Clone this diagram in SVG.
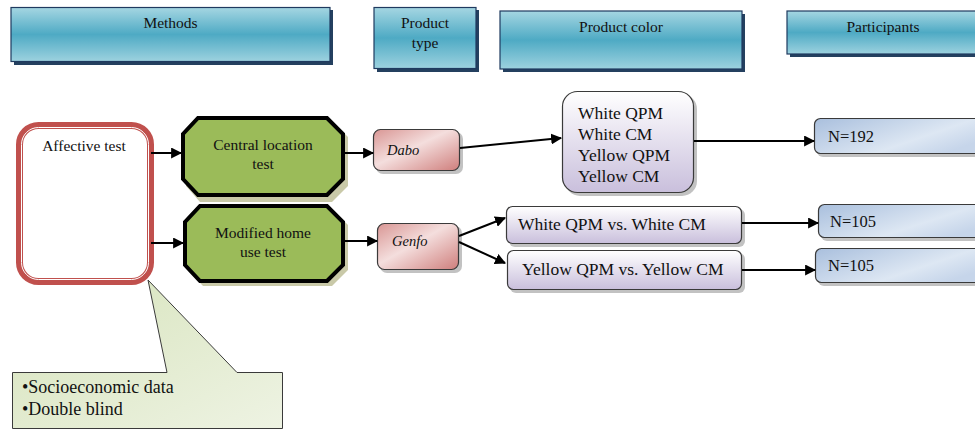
<svg xmlns="http://www.w3.org/2000/svg" width="975" height="431" viewBox="0 0 975 431">
<defs>
<linearGradient id="gHead" x1="0" y1="0" x2="0" y2="1">
<stop offset="0" stop-color="#a5d6e2"/><stop offset="0.5" stop-color="#4eaac4"/><stop offset="1" stop-color="#9dd2df"/>
</linearGradient>
<linearGradient id="gPink" x1="0" y1="0" x2="1" y2="1">
<stop offset="0" stop-color="#d99694"/><stop offset="0.45" stop-color="#f4dedd"/><stop offset="1" stop-color="#cf7e7c"/>
</linearGradient>
<linearGradient id="gLav" x1="0" y1="0" x2="0" y2="1">
<stop offset="0" stop-color="#ffffff"/><stop offset="1" stop-color="#c9bfdc"/>
</linearGradient>
<linearGradient id="gBlue" x1="0" y1="0" x2="1" y2="0.6">
<stop offset="0" stop-color="#a9bfdd"/><stop offset="0.7" stop-color="#dde7f3"/><stop offset="1" stop-color="#c6d5ea"/>
</linearGradient>
<linearGradient id="gGreen" x1="0" y1="0" x2="1" y2="1">
<stop offset="0" stop-color="#d6e3bb"/><stop offset="1" stop-color="#eef3e3"/>
</linearGradient>
<marker id="arr" viewBox="0 0 10 10" refX="9" refY="5" markerWidth="5.5" markerHeight="5.5" orient="auto" markerUnits="strokeWidth">
<path d="M0,0 L10,5 L0,10 z" fill="#000"/>
</marker>
</defs>
<style>
text{font-family:"Liberation Serif","Times New Roman",serif;fill:#111;}
.hd{fill:url(#gHead);stroke:#1f3a5f;stroke-width:1.2;}
.hs{fill:#24405f;}
.t15{font-size:15.5px;}
.t16{font-size:16.5px;}
.t17{font-size:17.5px;}
.t18{font-size:18px;}
.it{font-style:italic;font-size:14.5px;}
.pink{fill:url(#gPink);stroke:#3a3a3a;stroke-width:1.2;}
.lav{fill:url(#gLav);stroke:#3a3a3a;stroke-width:1.2;}
.blue{fill:url(#gBlue);stroke:#3a3a3a;stroke-width:1.2;}
.sh{fill:#9a9a9a;opacity:0.6;}
.oct{fill:#9bbb59;stroke:#000;stroke-width:4;stroke-linejoin:miter;}
.octsh{fill:#c9c9a8;}
.conn line{stroke:#000;stroke-width:2;marker-end:url(#arr);}
</style>

<g id="header-methods">
<rect class="hs" x="14" y="10" width="319" height="55"/>
<rect class="hd" x="11" y="7.5" width="319" height="54"/>
<text class="t15" x="170.5" y="28" text-anchor="middle">Methods</text>
</g>
<g id="header-product-type">
<rect class="hs" x="377" y="10" width="102" height="62"/>
<rect class="hd" x="374" y="7.5" width="102" height="61"/>
<text class="t15" x="425" y="28" text-anchor="middle">Product</text>
<text class="t15" x="425" y="48" text-anchor="middle">type</text>
</g>
<g id="header-product-color">
<rect class="hs" x="503" y="14" width="242" height="58"/>
<rect class="hd" x="500" y="11" width="242" height="58"/>
<text class="t15" x="621" y="32" text-anchor="middle">Product color</text>
</g>
<g id="header-participants">
<rect class="hs" x="790" y="14" width="190" height="43"/>
<rect class="hd" x="787" y="11" width="192" height="43"/>
<text class="t15" x="883" y="32" text-anchor="middle">Participants</text>
</g>

<g id="affective-test">
<rect x="19.5" y="125.5" width="131" height="156" rx="19" fill="#fff" stroke="#c0504d" stroke-width="7"/>
<rect x="21.5" y="127.5" width="127" height="152" rx="17" fill="none" stroke="#fff" stroke-width="1"/>
<text class="t15" x="84" y="151" text-anchor="middle">Affective test</text>
</g>

<g id="central-location-test">
<polygon class="octsh" points="200,121 332,121 348,137 348,186 332,202 200,202 186,186 186,137"/>
<polygon class="oct" points="198,118 327,118 343,134 343,179 327,195 198,195 183,179 183,134"/>
<text class="t15" x="263" y="150" text-anchor="middle">Central location</text>
<text class="t15" x="263" y="169" text-anchor="middle">test</text>
</g>

<g id="modified-home-use-test">
<polygon class="octsh" points="203,209 332,209 348,225 348,270 332,286 203,286 188,270 188,225"/>
<polygon class="oct" points="200,206 327,206 343,222 343,265 327,281 200,281 185,265 185,222"/>
<text class="t15" x="263" y="238" text-anchor="middle">Modified home</text>
<text class="t15" x="263" y="257" text-anchor="middle">use test</text>
</g>

<g id="dabo">
<rect class="sh" x="376" y="132" width="87" height="42" rx="7"/>
<rect class="pink" x="373.5" y="129.5" width="86" height="41" rx="7"/>
<text class="it" x="387" y="155">Dabo</text>
</g>

<g id="genfo">
<rect class="sh" x="380" y="226" width="82" height="47" rx="7"/>
<rect class="pink" x="377.5" y="223.5" width="81" height="46" rx="7"/>
<text class="it" x="392" y="246">Genfo</text>
</g>

<g id="colors-dabo">
<rect class="sh" x="565" y="94" width="132" height="102" rx="15"/>
<rect class="lav" x="562.5" y="91.5" width="131" height="101" rx="15"/>
<text class="t17" x="578" y="119">White QPM</text>
<text class="t17" x="578" y="140">White CM</text>
<text class="t17" x="578" y="161">Yellow QPM</text>
<text class="t17" x="578" y="182">Yellow CM</text>
</g>

<g id="white-qpm-vs-white-cm">
<rect class="sh" x="509" y="209" width="236" height="38" rx="6"/>
<rect class="lav" x="506.5" y="206.5" width="235" height="37" rx="6"/>
<text class="t17" x="518" y="230">White QPM vs. White CM</text>
</g>

<g id="yellow-qpm-vs-yellow-cm">
<rect class="sh" x="510" y="253" width="235" height="40" rx="6"/>
<rect class="lav" x="507.5" y="250.5" width="234" height="39" rx="6"/>
<text class="t17" x="522" y="275">Yellow QPM vs. Yellow CM</text>
</g>

<g id="n192">
<rect class="sh" x="817" y="121" width="170" height="36" rx="6"/>
<rect class="blue" x="814.5" y="118.5" width="170" height="35" rx="6"/>
<text class="t16" x="828" y="142">N=192</text>
</g>

<g id="n105-white">
<rect class="sh" x="821" y="207" width="170" height="34" rx="6"/>
<rect class="blue" x="818.5" y="204.5" width="170" height="33" rx="6"/>
<text class="t16" x="830" y="227">N=105</text>
</g>

<g id="n105-yellow">
<rect class="sh" x="818" y="251" width="170" height="35" rx="6"/>
<rect class="blue" x="815.5" y="248.5" width="170" height="34" rx="6"/>
<text class="t16" x="828" y="271">N=105</text>
</g>

<g id="callout">
<path d="M12.5,372.5 L167,372.5 L148,280 L237,372.5 L282.5,372.5 L282.5,428.5 L12.5,428.5 Z" fill="url(#gGreen)" stroke="#3a3a3a" stroke-width="1"/>
<text class="t18" x="22" y="393">•Socioeconomic data</text>
<text class="t18" x="22" y="415">•Double blind</text>
</g>

<g id="connectors" class="conn">
<line x1="151" y1="153" x2="181" y2="153"/>
<line x1="151" y1="243" x2="183" y2="243"/>
<line x1="345" y1="153" x2="373" y2="153"/>
<line x1="345" y1="241" x2="377" y2="241"/>
<line x1="460" y1="148" x2="561" y2="138"/>
<line x1="459" y1="236" x2="505" y2="218"/>
<line x1="459" y1="242" x2="505" y2="263"/>
<line x1="694" y1="141" x2="814" y2="141"/>
<line x1="742" y1="223" x2="818" y2="223"/>
<line x1="742" y1="270" x2="815" y2="270"/>
</g>
</svg>
